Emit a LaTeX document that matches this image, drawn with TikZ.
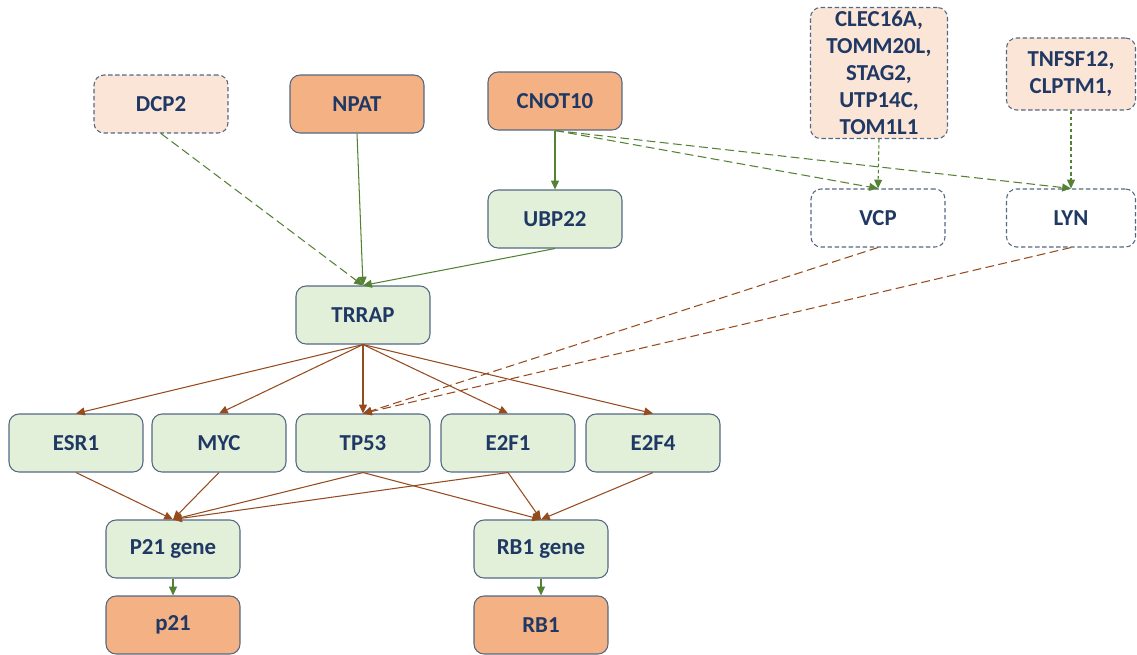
\documentclass[tikz,border=0pt]{standalone}
\usepackage{fontspec}
\setmainfont{Carlito}
\usetikzlibrary{arrows.meta}
\definecolor{txtblue}{RGB}{31,56,100}
\definecolor{boxedge}{RGB}{84,104,132}
\definecolor{orangefill}{RGB}{244,177,131}
\definecolor{peachfill}{RGB}{251,229,214}
\definecolor{greenfill}{RGB}{226,240,217}
\definecolor{linkgreen}{RGB}{84,130,53}
\definecolor{linkbrown}{RGB}{150,75,30}

\begin{document}
\begin{tikzpicture}[x=0.02cm,y=-0.02cm,
    gene/.style={draw=boxedge,line width=0.6pt,rounded corners=0.2cm,minimum width=2.68cm,minimum height=1.16cm,
      align=center,text=txtblue,inner sep=1pt,font=\fontsize{13}{15.4}\selectfont\bfseries},
    expr/.style={gene,fill=greenfill},
    prot/.style={gene,fill=orangefill},
    cand/.style={gene,fill=peachfill,dash pattern=on 2.5pt off 1.5pt},
    hit/.style={gene,fill=white,dash pattern=on 2.5pt off 1.5pt},
    tip/.style={-{Triangle[length=5pt,width=4.5pt]}},
    grn/.style={tip,draw=linkgreen,line width=0.6pt},
    grndash/.style={grn,dash pattern=on 5pt off 2.5pt},
    grndot/.style={grn,dash pattern=on 2pt off 1.5pt},
    brn/.style={tip,draw=linkbrown,line width=0.6pt},
    brndash/.style={brn,dash pattern=on 5pt off 2.5pt}]
\useasboundingbox (0,0) rectangle (1137,654);
\node[cand] (dcp2) at (161,104) {DCP2};
\node[prot] (npat) at (357,104) {NPAT};
\node[prot] (cnot10) at (555,101) {CNOT10};
\node[expr] (ubp22) at (555,219) {UBP22};
\node[expr] (trrap) at (363,315) {TRRAP};
\node[cand,minimum width=2.74cm,minimum height=2.62cm] (clec) at (879,73) {CLEC16A,\\TOMM20L,\\STAG2,\\UTP14C,\\TOM1L1};
\node[cand,minimum width=2.58cm,minimum height=1.44cm] (tnfsf) at (1071,74) {TNFSF12,\\CLPTM1,};
\node[hit] (vcp) at (878,218) {VCP};
\node[hit,minimum width=2.58cm] (lyn) at (1071,218) {LYN};
\node[expr] (esr1) at (76,443) {ESR1};
\node[expr] (myc) at (219,443) {MYC};
\node[expr] (tp53) at (363,443) {TP53};
\node[expr] (e2f1) at (508,443) {E2F1};
\node[expr] (e2f4) at (653,443) {E2F4};
\node[expr] (p21gene) at (173,549) {P21 gene};
\node[expr] (rb1gene) at (541,549) {RB1 gene};
\node[prot] (p21) at (173,625) {p21};
\node[prot] (rb1) at (541,625) {RB1};
\draw[grndash] (dcp2.south) -- (trrap.north);
\draw[grn] (npat.south) -- (trrap.north);
\draw[grn] (cnot10.south) -- (ubp22.north);
\draw[grn] (ubp22.south) -- (trrap.north);
\draw[grndash] (cnot10.south) -- (vcp.north);
\draw[grndash] (cnot10.south) -- (lyn.north);
\draw[grndot] (clec.south) -- (vcp.north);
\draw[grndot] (tnfsf.south) -- (lyn.north);
\draw[brndash] (vcp.south) -- (tp53.north);
\draw[brndash] (lyn.south) -- (tp53.north);
\draw[brn] (trrap.south) -- (esr1.north);
\draw[brn] (trrap.south) -- (myc.north);
\draw[brn] (trrap.south) -- (tp53.north);
\draw[brn] (trrap.south) -- (e2f1.north);
\draw[brn] (trrap.south) -- (e2f4.north);
\draw[brn] (esr1.south) -- (p21gene.north);
\draw[brn] (myc.south) -- (p21gene.north);
\draw[brn] (tp53.south) -- (p21gene.north);
\draw[brn] (e2f1.south) -- (p21gene.north);
\draw[brn] (tp53.south) -- (rb1gene.north);
\draw[brn] (e2f1.south) -- (rb1gene.north);
\draw[brn] (e2f4.south) -- (rb1gene.north);
\draw[grn] (p21gene.south) -- (p21.north);
\draw[grn] (rb1gene.south) -- (rb1.north);
\end{tikzpicture}
\end{document}
